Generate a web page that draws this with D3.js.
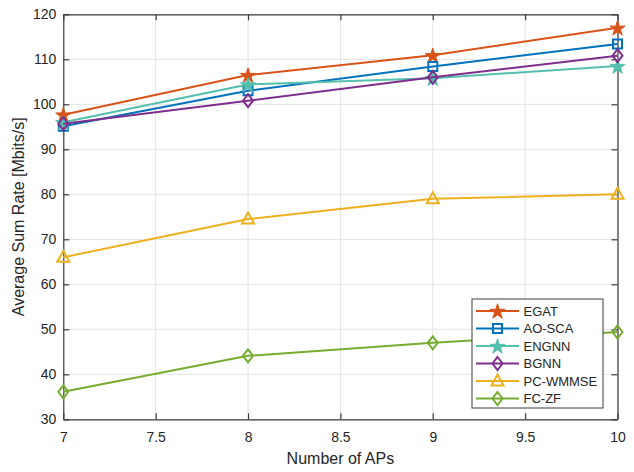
<!DOCTYPE html>
<html>
<head>
<meta charset="utf-8">
<script src="https://cdn.jsdelivr.net/npm/d3@7"></script>
<style>
  body { margin: 0; background: #fff; }
  text { font-family: "Liberation Sans", Arial, sans-serif; fill: #262626; }
</style>
</head>
<body>
<svg id="svg" width="634" height="472"></svg>
<script>
// data
const aps = [7, 8, 9, 10];
const xTicks = [7, 7.5, 8, 8.5, 9, 9.5, 10];
const yTicks = [30, 40, 50, 60, 70, 80, 90, 100, 110, 120];

const egat    = [97.7, 106.5, 110.9, 117.0];
const aoSca   = [95.1, 103.0, 108.4, 113.4];
const engnn   = [96.0, 104.4, 105.8, 108.5];
const bgnn    = [95.7, 100.8, 106.0, 110.8];
const pcWmmse = [66.0, 74.5, 79.0, 80.0];
const fcZf    = [36.1, 44.1, 47.0, 49.4];

const seriesNames = ["EGAT", "AO-SCA", "ENGNN", "BGNN", "PC-WMMSE", "FC-ZF"];
const seriesValues = [egat, aoSca, engnn, bgnn, pcWmmse, fcZf];
const colors = ["#D95319", "#0072BD", "#55BFAE", "#7E2F8E", "#EDB120", "#77AC30"];
const markers = ["star", "square", "star", "diamond", "triangle", "diamond"];

const svg = d3.select("#svg");
const margin = {top: 14.3, right: 16.5, bottom: 52.7, left: 63.3};
const width = +svg.attr("width");
const height = +svg.attr("height");

const x = d3.scaleLinear().domain([7, 10]).range([margin.left, width - margin.right]);
const y = d3.scaleLinear().domain([30, 120]).range([height - margin.bottom, margin.top]);

// grid
svg.append("g").selectAll("line").data(xTicks).join("line")
  .attr("x1", d => x(d)).attr("x2", d => x(d))
  .attr("y1", y(30)).attr("y2", y(120))
  .attr("stroke", "#e3e3e3").attr("stroke-width", 1);
svg.append("g").selectAll("line").data(yTicks).join("line")
  .attr("x1", x(7)).attr("x2", x(10))
  .attr("y1", d => y(d)).attr("y2", d => y(d))
  .attr("stroke", "#e3e3e3").attr("stroke-width", 1);

// axes (box on, ticks inside on all sides)
const tick = 6;
const axisColor = "#3c3c3c";
const xAxis = g => g
  .attr("transform", `translate(0,${y(30)})`)
  .call(d3.axisBottom(x).tickValues(xTicks).tickSizeInner(-tick).tickSizeOuter(0).tickPadding(10)
    .tickFormat(d3.format("")))
  .call(g => g.selectAll("text").attr("font-size", 14).attr("dy", "0.9em"));
const yAxis = g => g
  .attr("transform", `translate(${x(7)},0)`)
  .call(d3.axisLeft(y).tickValues(yTicks).tickSizeInner(-tick).tickSizeOuter(0).tickPadding(7))
  .call(g => g.selectAll("text").attr("font-size", 14));
const topAxis = g => g
  .attr("transform", `translate(0,${y(120)})`)
  .call(d3.axisTop(x).tickValues(xTicks).tickSizeInner(-tick).tickSizeOuter(0).tickFormat(""));
const rightAxis = g => g
  .attr("transform", `translate(${x(10)},0)`)
  .call(d3.axisRight(y).tickValues(yTicks).tickSizeInner(-tick).tickSizeOuter(0).tickFormat(""));

[xAxis, yAxis, topAxis, rightAxis].forEach(a => {
  svg.append("g").call(a)
    .call(g => g.selectAll(".domain, line").attr("stroke", axisColor).attr("stroke-width", 1.2))
    .call(g => g.selectAll("text").attr("fill", "#262626").attr("font-family", "Liberation Sans, Arial, sans-serif"));
});

// marker shapes
function markerPath(type) {
  if (type === "star") {
    const R = 8, r = R * 0.382;
    let p = [];
    for (let i = 0; i < 10; i++) {
      const a = -Math.PI / 2 + i * Math.PI / 5;
      const rr = i % 2 ? r : R;
      p.push([rr * Math.cos(a), rr * Math.sin(a) + 0.8]);
    }
    return "M" + p.map(d => d.join(",")).join("L") + "Z";
  }
  if (type === "square") return "M-4.5,-4.5H4.5V4.5H-4.5Z";
  if (type === "diamond") return "M0,-6.5L5,0L0,6.5L-5,0Z";
  if (type === "triangle") return "M0,-6.5L6,4.5L-6,4.5Z";
}

const line = d3.line().x((d, i) => x(aps[i])).y(d => y(d));

seriesValues.forEach((vals, k) => {
  const g = svg.append("g");
  g.append("path")
    .datum(vals)
    .attr("fill", "none")
    .attr("stroke", colors[k])
    .attr("stroke-width", 2)
    .attr("stroke-linejoin", "round")
    .attr("d", line);
  g.selectAll(".m").data(vals).join("path")
    .attr("transform", (d, i) => `translate(${x(aps[i])},${y(d)})`)
    .attr("d", markerPath(markers[k]))
    .attr("fill", markers[k] === "star" ? colors[k] : "none")
    .attr("stroke", colors[k])
    .attr("stroke-width", markers[k] === "star" ? 1 : 2)
    .attr("stroke-linejoin", "miter");
});

// axis labels
svg.append("text")
  .attr("x", (x(7) + x(10)) / 2).attr("y", 464)
  .attr("text-anchor", "middle").attr("font-size", 16)
  .text("Number of APs");
svg.append("text")
  .attr("transform", `translate(24,${(y(30) + y(120)) / 2}) rotate(-90)`)
  .attr("text-anchor", "middle").attr("font-size", 16)
  .text("Average Sum Rate [Mbits/s]");

// legend
const lg = svg.append("g").attr("transform", "translate(472,299)");
lg.append("rect").attr("width", 131).attr("height", 109)
  .attr("fill", "#fff").attr("stroke", "#3c3c3c").attr("stroke-width", 1);
seriesNames.forEach((name, k) => {
  const ry = 12 + k * 17.5;
  lg.append("line").attr("x1", 4).attr("x2", 47).attr("y1", ry).attr("y2", ry)
    .attr("stroke", colors[k]).attr("stroke-width", 2);
  lg.append("path").attr("transform", `translate(25.5,${ry})`)
    .attr("d", markerPath(markers[k]))
    .attr("fill", markers[k] === "star" ? colors[k] : "none")
    .attr("stroke", colors[k])
    .attr("stroke-width", markers[k] === "star" ? 1 : 2);
  lg.append("text").attr("x", 51.5).attr("y", ry).attr("dy", "0.35em")
    .attr("font-size", 13).text(name);
});
</script>
</body>
</html>
